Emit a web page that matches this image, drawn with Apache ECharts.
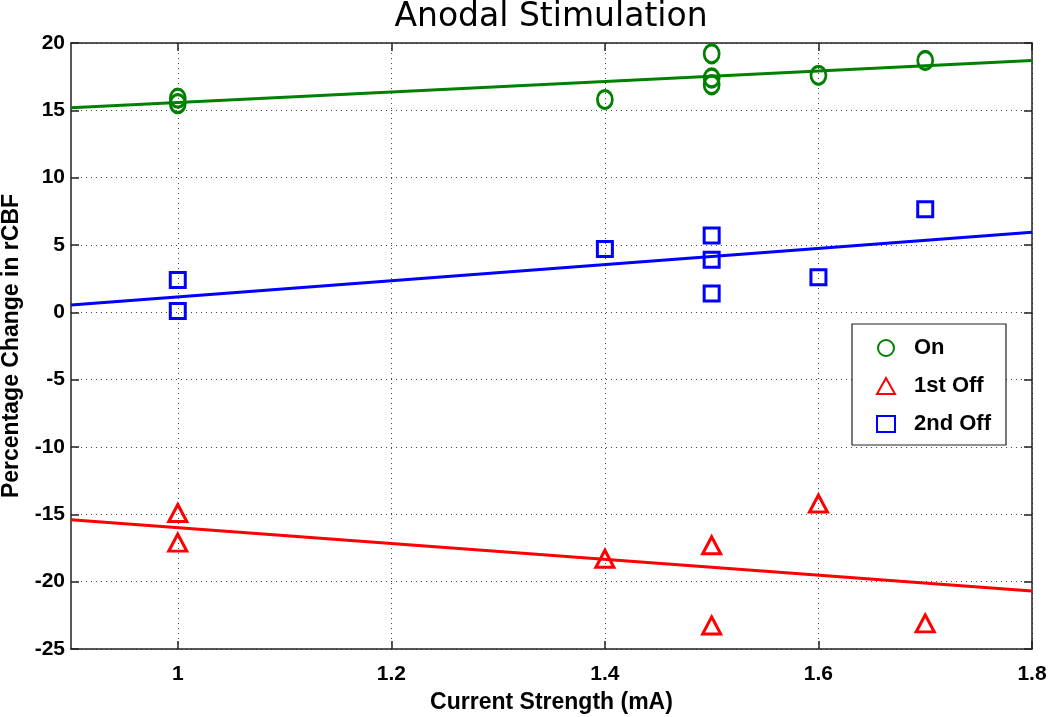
<!DOCTYPE html>
<html>
<head>
<meta charset="utf-8">
<script src="https://cdn.jsdelivr.net/npm/echarts@6/dist/echarts.min.js"></script>
<style>html,body{margin:0;padding:0;background:#fff;}#c{width:1050px;height:717px;}</style>
</head>
<body>
<div id="c"></div>
<script>
// Data
const xTicks = [1, 1.2, 1.4, 1.6, 1.8];
const xOn = [1, 1, 1.4, 1.5, 1.5, 1.5, 1.6, 1.7];
const yOn = [15.9, 15.5, 15.8, 19.2, 17.4, 16.9, 17.6, 18.7];
const xOff1 = [1, 1, 1.4, 1.5, 1.5, 1.6, 1.7];
const yOff1 = [-14.9, -17.1, -18.3, -17.3, -23.25, -14.2, -23.1];
const xOff2 = [1, 1, 1.4, 1.5, 1.5, 1.5, 1.6, 1.7];
const yOff2 = [2.4, 0.1, 4.7, 5.7, 3.9, 1.4, 2.6, 7.65];
const fitX = [0.9, 1.8];
const fitOn = [15.2, 18.7];
const fitOff1 = [-15.4, -20.7];
const fitOff2 = [0.55, 5.95];

const GREEN = '#008000', RED = '#ff0000', BLUE = '#0000ff';
const zip = (a, b) => a.map((v, i) => [v, b[i]]);
const FONT = 'Liberation Sans, Arial, sans-serif';

const chart = echarts.init(document.getElementById('c'), null, {renderer: 'canvas'});
const frameColor = '#222';
const gridLine = {show: true, lineStyle: {color: '#444', type: [1, 4], width: 1}};

const baseX = {
  type: 'value', min: 0.9, max: 1.8,
  axisLine: {show: true, onZero: false, lineStyle: {color: frameColor, width: 1.5}},
  axisTick: {show: true, inside: true, length: 8, customValues: xTicks, lineStyle: {color: frameColor, width: 1.5}},
};
const baseY = {
  type: 'value', min: -25, max: 20, interval: 5,
  axisLine: {show: true, onZero: false, lineStyle: {color: frameColor, width: 1.5}},
  axisTick: {show: true, inside: true, length: 8, lineStyle: {color: frameColor, width: 1.5}},
};

chart.setOption({
  animation: false,
  backgroundColor: '#fff',
  title: {
    text: 'Anodal Stimulation', left: 551, textAlign: 'center', top: 1, padding: 0,
    textStyle: {fontFamily: 'DejaVu Sans', fontWeight: 'normal', fontSize: 33, color: '#000'}
  },
  grid: {left: 71, right: 18, top: 43, bottom: 68, containLabel: false, outerBoundsMode: 'none'},
  legend: {
    data: ['On', '1st Off', '2nd Off'],
    orient: 'vertical', left: 852, top: 324,
    padding: [13, 15, 10, 24], itemGap: 16,
    itemWidth: 18, itemHeight: 16,
    backgroundColor: '#fff', borderColor: '#222', borderWidth: 1.2, borderRadius: 0,
    textStyle: {fontFamily: FONT, fontWeight: 'bold', fontSize: 22, color: '#000', padding: [0, 0, 0, 14]}
  },
  xAxis: [
    Object.assign({}, baseX, {
      position: 'bottom',
      name: 'Current Strength (mA)', nameLocation: 'middle', nameGap: 42,
      nameTextStyle: {fontFamily: FONT, fontWeight: 'bold', fontSize: 23, color: '#000'},
      axisLabel: {show: true, customValues: xTicks, margin: 15, fontFamily: FONT, fontWeight: 'bold', fontSize: 21, color: '#000', formatter: v => String(v)},
      splitLine: gridLine
    }),
    Object.assign({}, baseX, {position: 'top', axisLabel: {show: false}, splitLine: {show: false}})
  ],
  yAxis: [
    Object.assign({}, baseY, {
      position: 'left',
      name: 'Percentage Change in rCBF', nameLocation: 'middle', nameGap: 48,
      nameTextStyle: {fontFamily: FONT, fontWeight: 'bold', fontSize: 23, color: '#000'},
      axisLabel: {show: true, margin: 6, fontFamily: FONT, fontWeight: 'bold', fontSize: 21, color: '#000'},
      splitLine: gridLine
    }),
    Object.assign({}, baseY, {position: 'right', axisLabel: {show: false}, splitLine: {show: false}})
  ],
  series: [
    {name: 'fitOn', type: 'line', data: zip(fitX, fitOn), symbol: 'none', lineStyle: {color: GREEN, width: 3}, z: 2, silent: true},
    {name: 'fitOff1', type: 'line', data: zip(fitX, fitOff1), symbol: 'none', lineStyle: {color: RED, width: 3}, z: 2, silent: true},
    {name: 'fitOff2', type: 'line', data: zip(fitX, fitOff2), symbol: 'none', lineStyle: {color: BLUE, width: 3}, z: 2, silent: true},
    {name: 'On', type: 'scatter', data: zip(xOn, yOn), symbol: 'circle', symbolSize: [15, 18],
      itemStyle: {color: 'rgba(0,0,0,0)', borderColor: GREEN, borderWidth: 3, opacity: 1}, z: 3},
    {name: '1st Off', type: 'scatter', data: zip(xOff1, yOff1), symbol: 'triangle', symbolSize: [18, 17],
      itemStyle: {color: 'rgba(0,0,0,0)', borderColor: RED, borderWidth: 3, opacity: 1}, z: 3},
    {name: '2nd Off', type: 'scatter', data: zip(xOff2, yOff2), symbol: 'rect', symbolSize: 15,
      itemStyle: {color: 'rgba(0,0,0,0)', borderColor: BLUE, borderWidth: 3, opacity: 1}, z: 3}
  ]
});
</script>
</body>
</html>
